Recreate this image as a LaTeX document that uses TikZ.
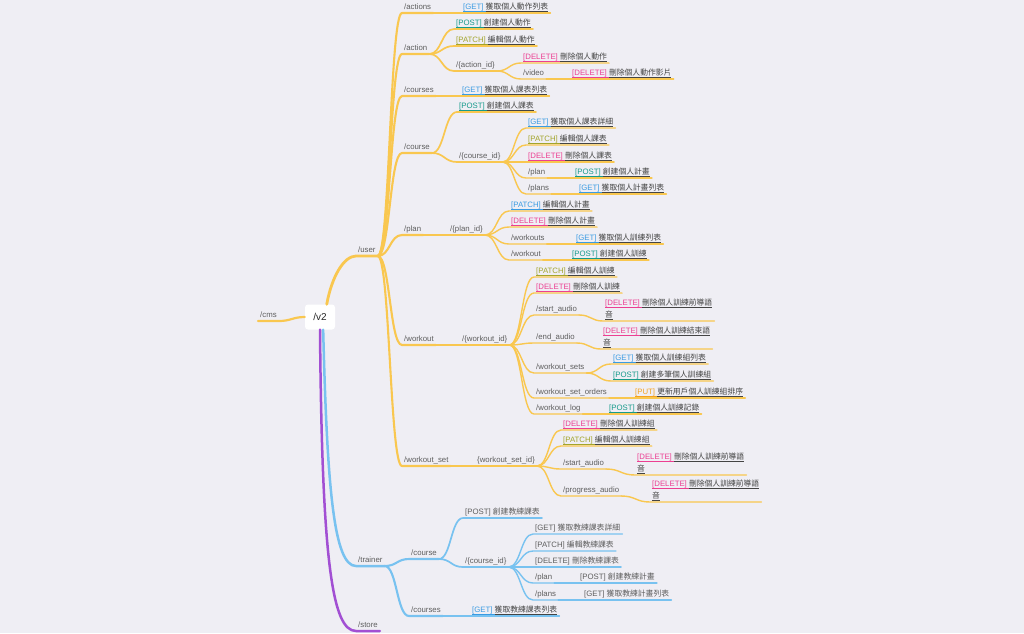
\documentclass[tikz,border=0pt]{standalone}
\usepackage{fontspec}
\setmainfont{Liberation Sans}
\newfontfamily\cjk{Noto Sans CJK TC}
\usetikzlibrary{calc}
\definecolor{bg}{HTML}{EFEEF4}
\definecolor{ylw}{HTML}{F9C74F}
\definecolor{blu}{HTML}{78C2F0}
\definecolor{pur}{HTML}{A24FD3}
\definecolor{pathc}{HTML}{5E5E5E}
\definecolor{zhc}{HTML}{444444}
\definecolor{getc}{HTML}{3A9BE2}
\definecolor{postc}{HTML}{169A8B}
\definecolor{patchc}{HTML}{A2A42C}
\definecolor{delc}{HTML}{EC3F92}
\definecolor{putc}{HTML}{F4A21E}
\newcommand\ulx[1]{\setbox0\hbox{#1}\rlap{\vrule height -1.2pt depth 2.1pt width \wd0}\box0}
\newcommand\mth[2]{{\color{#1}\ulx{[#2]\ }}}
\newcommand\zh[1]{{\color{zhc}\ulx{\cjk #1}}}
\newcommand\ap[3]{\mth{#1}{#2}\zh{#3}}
\newcommand\tl[2]{\begin{tabular}[b]{@{}l@{}}#1\\#2\end{tabular}}
\newcommand\br[3][]{\draw[#1] let \p1=(#2.south east), \p2=(#3.south west) in (\p1) .. controls ({(\x1+\x2)/2},\y1) and ({(\x1+\x2)/2},\y2) .. (\p2) -- (#3.south east);}
\begin{document}
\begin{tikzpicture}[x=1pt,y=-1pt,
  lbl/.style={anchor=south west, inner xsep=2pt, inner ysep=1pt, text depth=2.2pt, font=\fontsize{7.8}{12}\selectfont, text=pathc},
  lnk/.style={line cap=round, line join=round},
  yA/.style={lnk, draw=ylw, line width=2.1pt},
  yB/.style={lnk, draw=ylw, line width=1.7pt},
  yC/.style={lnk, draw=ylw, line width=1.4pt},
  bA/.style={lnk, draw=blu, line width=2.1pt},
  bB/.style={lnk, draw=blu, line width=1.7pt},
  bC/.style={lnk, draw=blu, line width=1.4pt},
  rootbox/.style={fill=white, rounded corners=3pt, minimum width=30pt, minimum height=25pt, inner sep=0pt, font=\fontsize{10}{12}\selectfont, text=black!85}
]
\fill[bg] (0,0) rectangle (1024,633);
\useasboundingbox (0,0) rectangle (1024,633);

% root
\node[rootbox] (root) at (320,317) {/v2};
\node[lbl] (cms) at (258,321) {/cms};
\node[lbl] (user) at (356,256) {/user};
\node[lbl] (trainer) at (356,566) {/trainer};
\node[lbl] (store) at (356,631) {/store};

% user branch
\node[lbl] (actions) at (402,13) {/actions};
\node[lbl] (actionsget) at (461,13) {\ap{getc}{GET}{獲取個人動作列表}};
\node[lbl] (action) at (402,54) {/action};
\node[lbl] (apost) at (454,29) {\ap{postc}{POST}{創建個人動作}};
\node[lbl] (apatch) at (454,46) {\ap{patchc}{PATCH}{編輯個人動作}};
\node[lbl] (aid) at (454,71) {/\{action\_id\}};
\node[lbl] (adel) at (521,63) {\ap{delc}{DELETE}{刪除個人動作}};
\node[lbl] (avideo) at (521,79) {/video};
\node[lbl] (avdel) at (570,79) {\ap{delc}{DELETE}{刪除個人動作影片}};
\node[lbl] (courses) at (402,96) {/courses};
\node[lbl] (coursesget) at (460,96) {\ap{getc}{GET}{獲取個人課表列表}};
\node[lbl] (course) at (402,153) {/course};
\node[lbl] (cpost) at (457,112) {\ap{postc}{POST}{創建個人課表}};
\node[lbl] (cid) at (457,162) {/\{course\_id\}};
\node[lbl] (cget) at (526,128) {\ap{getc}{GET}{獲取個人課表詳細}};
\node[lbl] (cpatch) at (526,145) {\ap{patchc}{PATCH}{編輯個人課表}};
\node[lbl] (cdel) at (526,162) {\ap{delc}{DELETE}{刪除個人課表}};
\node[lbl] (cplan) at (526,178) {/plan};
\node[lbl] (cplanpost) at (573,178) {\ap{postc}{POST}{創建個人計畫}};
\node[lbl] (cplans) at (526,194) {/plans};
\node[lbl] (cplansget) at (577,194) {\ap{getc}{GET}{獲取個人計畫列表}};
\node[lbl] (plan) at (402,235) {/plan};
\node[lbl] (pid) at (448,235) {/\{plan\_id\}};
\node[lbl] (ppatch) at (509,211) {\ap{getc}{PATCH}{編輯個人計畫}};
\node[lbl] (pdel) at (509,227) {\ap{delc}{DELETE}{刪除個人計畫}};
\node[lbl] (pwos) at (509,244) {/workouts};
\node[lbl] (pwosget) at (574,244) {\ap{getc}{GET}{獲取個人訓練列表}};
\node[lbl] (pwo) at (509,260) {/workout};
\node[lbl] (pwopost) at (570,260) {\ap{postc}{POST}{創建個人訓練}};
\node[lbl] (workout) at (402,345) {/workout};
\node[lbl] (wid) at (460,345) {/\{workout\_id\}};
\node[lbl] (wpatch) at (534,277) {\ap{patchc}{PATCH}{編輯個人訓練}};
\node[lbl] (wdel) at (534,293) {\ap{delc}{DELETE}{刪除個人訓練}};
\node[lbl] (wsa) at (534,315) {/start\_audio};
\node[lbl] (wsadel) at (603,321) {\tl{\ap{delc}{DELETE}{刪除個人訓練前導語}}{\zh{音}}};
\node[lbl] (wea) at (534,343) {/end\_audio};
\node[lbl] (weadel) at (601,349) {\tl{\ap{delc}{DELETE}{刪除個人訓練結束語}}{\zh{音}}};
\node[lbl] (wsets) at (534,373) {/workout\_sets};
\node[lbl] (wsetsget) at (611,364) {\ap{getc}{GET}{獲取個人訓練組列表}};
\node[lbl] (wsetspost) at (611,381) {\ap{postc}{POST}{創建多筆個人訓練組}};
\node[lbl] (wso) at (534,398) {/workout\_set\_orders};
\node[lbl] (wsoput) at (633,398) {\ap{putc}{PUT}{更新用戶個人訓練組排序}};
\node[lbl] (wlog) at (534,414) {/workout\_log};
\node[lbl] (wlogpost) at (607,414) {\ap{postc}{POST}{創建個人訓練記錄}};
\node[lbl] (wset) at (402,466) {/workout\_set};
\node[lbl] (wsid) at (475,466) {\{workout\_set\_id\}};
\node[lbl] (wsdel) at (561,430) {\ap{delc}{DELETE}{刪除個人訓練組}};
\node[lbl] (wspatch) at (561,446) {\ap{patchc}{PATCH}{編輯個人訓練組}};
\node[lbl] (wssa) at (561,469) {/start\_audio};
\node[lbl] (wssadel) at (635,475) {\tl{\ap{delc}{DELETE}{刪除個人訓練前導語}}{\zh{音}}};
\node[lbl] (wspa) at (561,496) {/progress\_audio};
\node[lbl] (wspadel) at (650,502) {\tl{\ap{delc}{DELETE}{刪除個人訓練前導語}}{\zh{音}}};

% trainer branch
\node[lbl] (tcourse) at (409,559) {/course};
\node[lbl] (tcpost) at (463,518) {[POST] {\cjk 創建教練課表}};
\node[lbl] (tcid) at (463,567) {/\{course\_id\}};
\node[lbl] (tget) at (533,534) {[GET] {\cjk 獲取教練課表詳細}};
\node[lbl] (tpatch) at (533,551) {[PATCH] {\cjk 編輯教練課表}};
\node[lbl] (tdel) at (533,567) {[DELETE] {\cjk 刪除教練課表}};
\node[lbl] (tplan) at (533,583) {/plan};
\node[lbl] (tplanpost) at (578,583) {[POST] {\cjk 創建教練計畫}};
\node[lbl] (tplans) at (533,600) {/plans};
\node[lbl] (tplansget) at (582,600) {[GET] {\cjk 獲取教練計畫列表}};
\node[lbl] (tcourses) at (409,616) {/courses};
\node[lbl] (tcsget) at (470,616) {\ap{getc}{GET}{獲取教練課表列表}};

% root connectors
\draw[lnk, draw=ylw, line width=2.8pt] (root.62) .. controls +(5,-28) and +(-12,0) .. (user.south west) -- (user.south east);
\draw[lnk, draw=ylw, line width=2.2pt] (root.west) .. controls +(-12,0) and +(12,0) .. (cms.south east) -- (cms.south west);
\draw[lnk, draw=blu, line width=2.5pt] (root.-76) .. controls +(4,160) and +(-22,0) .. (trainer.south west) -- (trainer.south east);
\draw[lnk, draw=pur, line width=2.5pt] (root.-90) .. controls +(2,230) and +(-24,0) .. (store.south west) -- (store.south east);

% user connectors
\br[yA]{user}{actions}
\br[yA]{user}{action}
\br[yA]{user}{courses}
\br[yA]{user}{course}
\br[yA]{user}{plan}
\br[yA]{user}{workout}
\br[yA]{user}{wset}
\br[yB]{actions}{actionsget}
\br[yB]{action}{apost}
\br[yB]{action}{apatch}
\br[yB]{action}{aid}
\br[yC]{aid}{adel}
\br[yC]{aid}{avideo}
\br[yC]{avideo}{avdel}
\br[yB]{courses}{coursesget}
\br[yB]{course}{cpost}
\br[yB]{course}{cid}
\br[yC]{cid}{cget}
\br[yC]{cid}{cpatch}
\br[yC]{cid}{cdel}
\br[yC]{cid}{cplan}
\br[yC]{cid}{cplans}
\br[yC]{cplan}{cplanpost}
\br[yC]{cplans}{cplansget}
\br[yB]{plan}{pid}
\br[yC]{pid}{ppatch}
\br[yC]{pid}{pdel}
\br[yC]{pid}{pwos}
\br[yC]{pid}{pwo}
\br[yC]{pwos}{pwosget}
\br[yC]{pwo}{pwopost}
\br[yB]{workout}{wid}
\br[yC]{wid}{wpatch}
\br[yC]{wid}{wdel}
\br[yC]{wid}{wsa}
\br[yC]{wid}{wea}
\br[yC]{wid}{wsets}
\br[yC]{wid}{wso}
\br[yC]{wid}{wlog}
\br[yC]{wsa}{wsadel}
\br[yC]{wea}{weadel}
\br[yC]{wsets}{wsetsget}
\br[yC]{wsets}{wsetspost}
\br[yC]{wso}{wsoput}
\br[yC]{wlog}{wlogpost}
\br[yB]{wset}{wsid}
\br[yC]{wsid}{wsdel}
\br[yC]{wsid}{wspatch}
\br[yC]{wsid}{wssa}
\br[yC]{wsid}{wspa}
\br[yC]{wssa}{wssadel}
\br[yC]{wspa}{wspadel}

% trainer connectors
\br[bA]{trainer}{tcourse}
\br[bA]{trainer}{tcourses}
\br[bB]{tcourse}{tcpost}
\br[bB]{tcourse}{tcid}
\br[bC]{tcid}{tget}
\br[bC]{tcid}{tpatch}
\br[bC]{tcid}{tdel}
\br[bC]{tcid}{tplan}
\br[bC]{tcid}{tplans}
\br[bC]{tplan}{tplanpost}
\br[bC]{tplans}{tplansget}
\br[bB]{tcourses}{tcsget}
\end{tikzpicture}
\end{document}
